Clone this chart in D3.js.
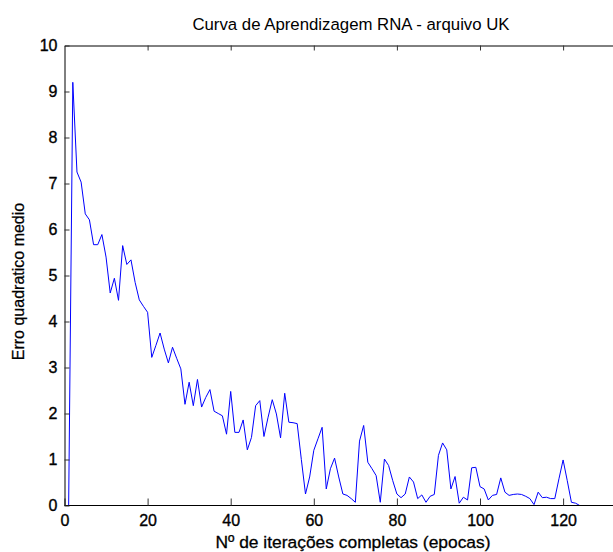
<!DOCTYPE html>
<html>
<head>
<meta charset="utf-8">
<script src="https://cdn.jsdelivr.net/npm/d3@7"></script>
<style>
  body { margin: 0; background: #fff; }
  svg { display: block; font-family: "Liberation Sans", Arial, Helvetica, sans-serif; }
</style>
</head>
<body>
<script>
  // erro quadratico medio por epoca (epocas 1..124)
  const epochs = d3.range(1, 125);
  const mse = [
    0, 9.2, 7.25, 7.03, 6.34, 6.21, 5.67, 5.67, 5.89, 5.4,
    4.62, 4.94, 4.46, 5.65, 5.24, 5.34, 4.85, 4.47, 4.33, 4.2,
    3.22, 3.48, 3.75, 3.4, 3.1, 3.44, 3.2, 2.97, 2.2, 2.68,
    2.17, 2.74, 2.14, 2.35, 2.52, 2.05, 2.0, 1.95, 1.55, 2.48,
    1.59, 1.59, 1.86, 1.21, 1.48, 2.17, 2.28, 1.5, 1.92, 2.3,
    1.99, 1.47, 2.44, 1.81, 1.8, 1.78, 1.0, 0.25, 0.62, 1.2,
    1.45, 1.7, 0.36, 0.8, 1.03, 0.62, 0.25, 0.22, 0.15, 0.07,
    1.4, 1.74, 0.94, 0.8, 0.65, 0.07, 1.01, 0.87, 0.54, 0.25,
    0.17, 0.25, 0.62, 0.51, 0.15, 0.23, 0.07, 0.2, 0.24, 1.09,
    1.36, 1.21, 0.36, 0.63, 0.05, 0.18, 0.12, 0.82, 0.83, 0.41,
    0.36, 0.12, 0.22, 0.24, 0.6, 0.29, 0.22, 0.24, 0.25, 0.24,
    0.2, 0.15, 0.02, 0.29, 0.17, 0.18, 0.15, 0.15, 0.58, 0.99,
    0.54, 0.07, 0.05, 0.0
  ];
  const xTicks = [0, 20, 40, 60, 80, 100, 120];
  const xTicksTop = [20, 40, 60, 80, 100, 120, 140];
  const yTicks = [0, 1, 2, 3, 4, 5, 6, 7, 8, 9, 10];

  const titleText = 'Curva de Aprendizagem RNA - arquivo UK';
  const xLabel = 'Nº de iterações completas (epocas)';
  const yLabel = 'Erro quadratico medio';

  const w = 613;
  const h = 552;
  const padL = 64.5, padT = 45.5, padB = 505.5;
  const padR = padL + 140 * 4.155;

  const x = d3.scaleLinear().domain([0, 140]).range([padL, padR]);
  const y = d3.scaleLinear().domain([0, 10]).range([padB, padT]);

  const svg = d3.select('body').append('svg')
    .attr('width', w)
    .attr('height', h);

  // linha de aprendizagem
  const line = d3.line()
    .x((d, i) => x(epochs[i]))
    .y(d => y(d));

  svg.append('path')
    .datum(mse)
    .attr('fill', 'none')
    .attr('stroke', '#0000ff')
    .attr('stroke-width', 1)
    .attr('stroke-linejoin', 'round')
    .attr('d', line);

  // eixos (caixa tipo MATLAB, ticks para dentro)
  svg.append('line')
    .attr('x1', padL).attr('x2', padR)
    .attr('y1', padB).attr('y2', padB)
    .attr('stroke', '#000');

  svg.append('g')
    .attr('class', 'x-axis')
    .attr('transform', `translate(0,${padB})`)
    .call(d3.axisBottom(x).tickValues(xTicks).tickSize(-7).tickPadding(9).tickSizeOuter(0));

  svg.append('g')
    .attr('class', 'x-top')
    .attr('transform', `translate(0,${padT})`)
    .call(d3.axisTop(x).tickValues(xTicksTop).tickSize(-5).tickFormat('').tickSizeOuter(0));

  svg.append('g')
    .attr('class', 'y-axis')
    .attr('transform', `translate(${padL},0)`)
    .call(d3.axisLeft(y).tickValues(yTicks).tickSize(-5).tickPadding(7).tickSizeOuter(0));

  svg.select('.x-axis .domain').remove();
  svg.selectAll('.domain').attr('stroke', '#000').attr('stroke-width', 1);
  svg.selectAll('.tick line').attr('stroke', '#333');
  svg.selectAll('.tick text')
    .attr('font-size', 16)
    .attr('fill', '#000')
    .attr('stroke', '#000')
    .attr('stroke-width', 0.35)
    .attr('font-family', '"Liberation Sans", Arial, sans-serif');

  // titulo e rotulos
  svg.append('text')
    .attr('x', 351)
    .attr('y', 30)
    .attr('text-anchor', 'middle')
    .attr('font-size', 16.8)
    .text(titleText);

  svg.append('text')
    .attr('x', 353)
    .attr('y', 548)
    .attr('text-anchor', 'middle')
    .attr('font-size', 17.4)
    .attr('stroke', '#000')
    .attr('stroke-width', 0.3)
    .text(xLabel);

  svg.append('text')
    .attr('text-anchor', 'middle')
    .attr('transform', `translate(24,${(padT + padB) / 2 + 6})rotate(-90)`)
    .attr('font-size', 16)
    .attr('stroke', '#000')
    .attr('stroke-width', 0.25)
    .text(yLabel);
</script>
</body>
</html>
